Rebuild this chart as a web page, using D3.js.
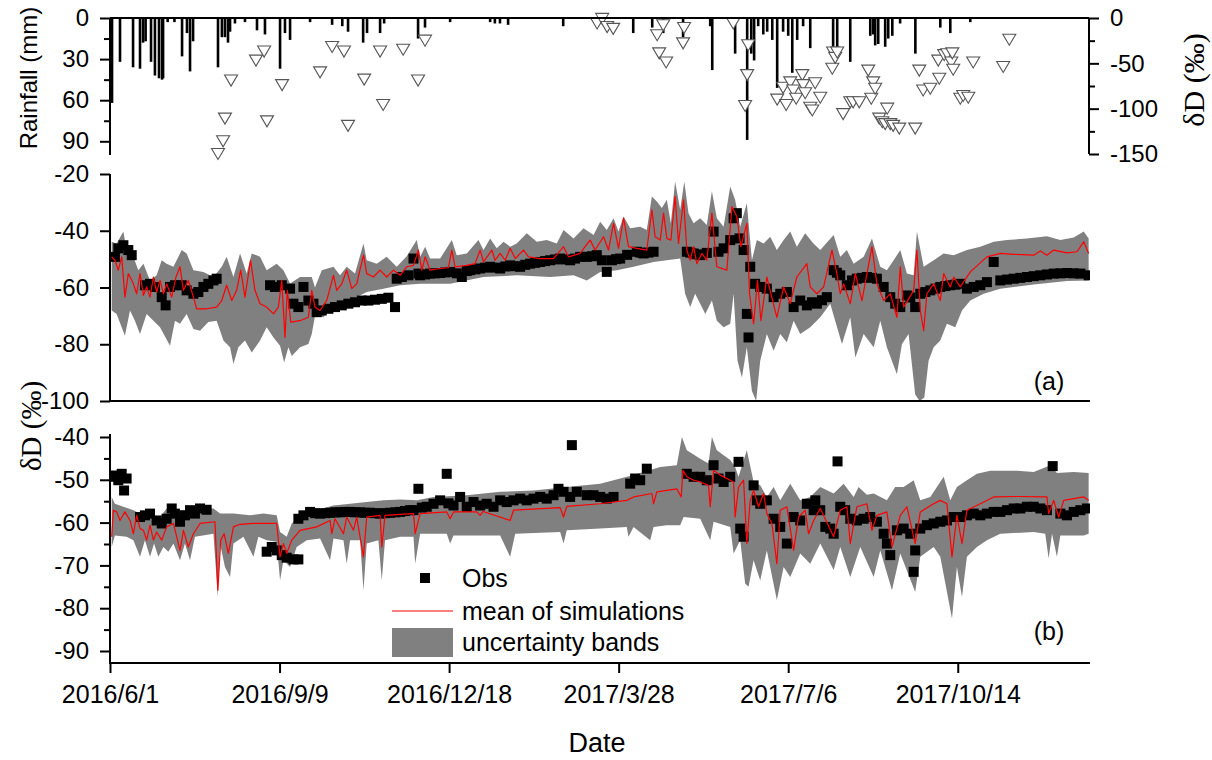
<!DOCTYPE html>
<html>
<head>
<meta charset="utf-8">
<script src="https://cdn.jsdelivr.net/npm/d3@7"></script>
<style>
  body { margin: 0; background: #fff; }
  svg { display: block; }
  text { font-family: "Liberation Sans", Arial, Helvetica, sans-serif; fill: #000; }
  .serif { font-family: "Liberation Serif", "Times New Roman", serif; }
</style>
</head>
<body>
<svg id="chart" width="1212" height="760"></svg>
<script>
// ---- time axis -------------------------------------------------------------
// every series below is keyed by "days since 2016/6/1"
const startDate = [2016, 6, 1];
const endDate = [2017, 12, 31];
const xTickLabels = ["2016/6/1", "2016/9/9", "2016/12/18", "2017/3/28", "2017/7/6", "2017/10/14"];

// ---- daily rainfall (mm) ---------------------------------------------------
const rainDay = [1.2, 5.9, 13.6, 17.7, 19.5, 21, 24.2, 26.5, 28.9, 30.7, 31.3, 34, 38, 42.5, 45.4, 47.2, 49,
  63.7, 66, 67.8, 69.6, 70.8, 73.7, 79.6, 86.7, 91.4, 100.3, 103.2, 106.2, 118, 131, 137, 140.4, 149.3, 151.6,
  159.3, 161.7, 181.7, 185.8, 200.6, 224.2, 227, 230, 234.8, 267.3, 308.6, 319.8, 326.3, 338, 354, 355.2, 368.7,
  375.8, 378.2, 379.9, 382.3, 385.3, 387.6, 390.6, 393.5, 397, 400, 402.4, 405.3, 408.8, 413, 426.5, 428.9,
  436.6, 448.4, 450.1, 451.3, 453.1, 457.2, 459, 461.4, 466, 475, 489.7, 495.6, 507.4];
const rainMm = [62, 32, 36, 37, 18, 17, 32, 42, 44, 45, 44, 3, 3, 28, 11, 39, 17,
  36, 14, 14, 18, 10, 4, 3, 9, 12, 37, 11, 16, 3, 5, 6, 10, 18, 11,
  11, 4, 15, 7, 3, 3, 4, 4, 5, 6, 11, 7, 11, 14, 6, 38, 26,
  89, 26, 31, 6, 12, 10, 16, 51, 10, 13, 40, 16, 6, 22, 21, 23,
  32, 13, 12, 20, 19, 21, 15, 13, 4, 26, 7, 11, 3];

// ---- δD of rainfall (‰) ----------------------------------------------------
const isoDay = [71.4, 67.8, 66.7, 63.7, 86.1, 90.9, 92.6, 101.5, 123.9, 131, 138, 140.4, 149.9, 159.3, 161.1,
  172.9, 181.7, 185.8, 287.3, 290.3, 293.2, 296.8, 322.7, 326.3, 323.9, 328, 338.6, 338, 367.6, 376.4, 375.8,
  374.6, 393.5, 397, 398.8, 401.2, 403, 404.7, 408.3, 408.8, 410, 413, 414.2, 415.9, 418.9, 426, 426.5, 427.7,
  428.9, 432.4, 436.6, 438.3, 441.9, 447.2, 449, 450.1, 451.3, 453.7, 455.5, 457.2, 458.4, 460.2, 461.9, 465.5,
  474.9, 477.3, 479.6, 483.8, 488.5, 489.1, 492, 493.8, 496.2, 496.8, 497.3, 501.5, 503.2, 506.2, 509.1, 526.8,
  530.4];
const isoD = [-69, -111, -136, -150, -47, -37, -114, -74, -60, -32, -37, -119, -68, -37, -96,
  -35, -69, -25, -6, -1, -10, -12, -19, -8, -39, -49, -11, -28, -6, -30, -63,
  -97, -90, -77, -96, -71, -80, -89, -63, -74, -83, -99, -102, -72, -88, -56, -38, -44,
  -38, -106, -93, -93, -93, -58, -89, -71, -78, -111, -115, -117, -100, -117, -119, -122,
  -122, -58, -80, -78, -47, -67, -41, -40, -49, -39, -57, -89, -86, -88, -49, -54,
  -24];

// ---- panel (a): simulated δD envelope, mean and observations ---------------
const aUpper = [[1,-43.9],[3.9,-44.5],[7.9,-40.3],[10.8,-50.4],[13.8,-49.2],[16.7,-53.9],[19.7,-51.6],[23.6,-57.5],
  [27.5,-55.7],[30.5,-50.4],[33.4,-51.6],[37.4,-52.7],[42.3,-46.8],[45.2,-48],[49.2,-53.9],[55.1,-54.5],[61,-56.3],
  [65.9,-52.7],[68.8,-49.2],[72.8,-56.3],[76.7,-48],[80.6,-55.1],[83.6,-48],[88.5,-49.2],[92.4,-53.9],[98.3,-51.6],
  [102.3,-53.9],[106.2,-58.6],[112.1,-56.3],[119,-56.3],[120.9,-60],[124.9,-53.9],[131.8,-52.7],[135.7,-55.7],
  [139.6,-52.7],[144.5,-55.1],[149.5,-44.5],[151.4,-50.4],[157.3,-51.6],[163.2,-49.2],[169.1,-52.7],[175,-49],
  [180.9,-43.3],[182.9,-49.2],[185.9,-45.6],[188.8,-49.8],[194.7,-49.8],[201.6,-43.3],[204.5,-48.6],[210.4,-48],
  [217.3,-43.3],[220.3,-46.8],[224.2,-42.7],[228.1,-46.2],[232.1,-43.9],[236,-45.6],[239.9,-44.5],[245.8,-40.9],
  [251.7,-43.9],[257.6,-43.3],[263.5,-44.5],[267.5,-39.7],[273.4,-42.7],[279.3,-39.1],[285.2,-41.5],[289.1,-36.8],
  [293,-39.7],[297,-35.6],[299.9,-40.3],[302.9,-35],[306.8,-39.1],[312.7,-38.6],[316.6,-39.7],[319.6,-27.9],
  [322.5,-29.7],[325.5,-32],[328.4,-29.1],[330.8,-37.4],[333.3,-22.6],[336.3,-32.6],[338.7,-22.6],[341.2,-33.8],
  [344.2,-37.4],[348.1,-35.6],[352,-38],[355,-26.1],[357.9,-35.6],[361.9,-38.6],[365.8,-24.4],[368.7,-29.1],
  [371.7,-38.6],[375.6,-30.3],[378.6,-50.4],[381.5,-43.3],[385.5,-44.5],[389.4,-42.1],[393.3,-46.8],[397.3,-43.3],
  [401.2,-40.3],[405.1,-45.6],[410,-40.9],[414.9,-44.5],[418.9,-46.8],[426.8,-41.5],[430.7,-49.2],[434.6,-46.8],
  [438.6,-51.6],[444.5,-49.2],[449.4,-42.7],[454.3,-52.7],[458.2,-53.9],[462.2,-50.4],[466.1,-46.8],[470,-55.1],
  [474,-55.7],[475.9,-40.3],[479.9,-52.7],[485.8,-50.4],[491.7,-48],[497.6,-48.6],[505.4,-46.8],[513.3,-45.6],
  [521.2,-43.9],[529,-43.3],[540.8,-42.7],[552.6,-41.9],[560.5,-43.3],[568.4,-42.4],[574.3,-40.3],[577.2,-42.7]];
const aLower = [[1,-68.1],[3.9,-69.3],[8.8,-77],[11.8,-68.1],[14.7,-71.7],[17.7,-76.4],[21.6,-69.3],[25.6,-71.7],
  [29.5,-74],[35.4,-80.5],[38.3,-71.7],[41.3,-72.8],[45.2,-69.3],[49.2,-74.6],[53.1,-75.2],[58,-72.2],[62.9,-71.7],
  [66.9,-78.7],[70.8,-81.1],[72.8,-87],[75.7,-81.1],[79.6,-78.7],[83.6,-82.9],[88.5,-78.7],[92.4,-74],[96.4,-77.6],
  [100.3,-80.5],[102.7,-86.4],[105.2,-81.1],[107.2,-84.1],[112.1,-81.1],[117,-79.9],[119,-76.4],[120.9,-70],
  [125.9,-70.5],[131.8,-66],[141.6,-64.6],[151.4,-61.6],[161.3,-60.4],[171.1,-59.2],[182.9,-58.7],[200.6,-58.7],
  [220.3,-56.3],[239.9,-55.7],[259.6,-56.3],[273.4,-55.7],[281.2,-57.5],[289.1,-54.5],[299,-53.9],[308.8,-52.7],
  [320.6,-51],[328.4,-50.4],[336.3,-49.8],[339.2,-62.2],[342.2,-66.9],[345.1,-62.2],[348.1,-65.7],[351.1,-69.3],
  [355,-64.6],[357.9,-71.7],[361.9,-74],[365.8,-72.8],[367.8,-62.2],[370.1,-85.8],[372.7,-91.7],[375.6,-81.1],
  [378.6,-96.5],[381.1,-100],[383.5,-85.8],[387.4,-76.4],[391.4,-82.3],[395.3,-76.4],[399.2,-79.3],[403.2,-71.7],
  [407.1,-76.4],[413,-74],[418.9,-70.5],[424.8,-65.7],[431.7,-79.9],[436.6,-70.5],[439.6,-84.7],[444.5,-76.4],
  [450.4,-81.1],[454.3,-71.7],[458.2,-81.1],[464.1,-90.6],[467.1,-79.9],[471,-76.4],[474.9,-97.7],[477.5,-100],
  [480.3,-98.8],[482.8,-85.8],[485.8,-81.1],[489.7,-78.7],[493.6,-72.8],[498.5,-74],[502.5,-68.1],[507.4,-64.6],
  [515.3,-62.2],[525.1,-60.4],[544.8,-58.9],[564.4,-57.7],[577.2,-57.5]];
const aMean = [[1,-49.2],[2.9,-50.4],[4.9,-53.9],[6.9,-49.2],[8.8,-63.4],[10.8,-55.1],[13.8,-58.7],[15.7,-62.2],
  [17.7,-55.1],[19.7,-62.8],[21.6,-59.8],[23.6,-63.4],[25.6,-56.3],[27.5,-61.6],[29.5,-57.5],[31.5,-62.2],
  [33.4,-58.7],[36.4,-63.4],[38.9,-56.3],[41.3,-52.7],[43.3,-61],[46.2,-57.5],[49.2,-63.4],[51.1,-67.5],[57,-67.5],
  [62.9,-66.9],[65.9,-64.6],[68.8,-59.2],[71.8,-64.6],[74.7,-61],[77.1,-53.9],[79.6,-63.4],[82.9,-50.4],[85.5,-61],
  [88.5,-65.7],[92.4,-66.9],[96.4,-69.3],[99.3,-66.9],[101.3,-57.5],[103.2,-77.6],[104.6,-61],[106.6,-72.2],
  [112.1,-71.7],[117,-70.5],[119,-61],[120.9,-66.9],[123.9,-68.1],[127.8,-64.6],[131.8,-55.7],[133.7,-61],
  [136.7,-58.7],[139.6,-53.9],[142.6,-60.4],[145.5,-58.7],[149.5,-48.6],[151.4,-55.1],[155.4,-56.3],[159.3,-53.9],
  [163.2,-56.3],[167.2,-53.9],[171.1,-55.7],[175,-52.7],[179,-52.2],[181.9,-46.8],[183.9,-53.9],[185.9,-49.2],
  [188.8,-53.9],[194.7,-53.3],[199.6,-53],[201.6,-46.8],[203.5,-52.7],[210.4,-52.2],[215.3,-51.6],[218.3,-46.8],
  [220.3,-51],[225.2,-46.8],[227.1,-50.4],[230.1,-48],[233.1,-50.4],[236,-46.2],[239,-49.8],[243.9,-46.8],
  [246.8,-49.2],[253.7,-49.8],[261.6,-49.8],[267.5,-45.6],[270.4,-49.2],[277.3,-48],[280.2,-45.6],[283.2,-43.3],
  [286.1,-46.8],[291.1,-42.1],[294,-46.8],[297,-37.4],[299.9,-46.2],[302.9,-35.5],[305.8,-45.6],[310.7,-46.2],
  [316.6,-46.8],[319.6,-32.6],[321.5,-42.1],[324.5,-43.3],[326.5,-33.8],[328.4,-42.7],[330.8,-43.3],[333.3,-27.9],
  [335.3,-44.5],[338.3,-29.1],[340.2,-46.8],[342.2,-50.4],[344.2,-45.6],[346.1,-51.6],[349.1,-48],[352,-50.4],
  [355,-33.8],[357.9,-52.7],[363.8,-53.9],[366.8,-31.5],[369.7,-35],[372.1,-45.6],[375.6,-37.4],[377.2,-62.2],
  [379.6,-72.8],[381.9,-57.5],[383.9,-71.7],[387.4,-56.3],[389.8,-62.2],[393.3,-70.5],[397.3,-59.8],[401.2,-65.7],
  [405.1,-56.3],[411,-51.6],[413,-59.8],[416.9,-62.2],[420.9,-59.8],[425.8,-46.8],[428.7,-55.1],[430.7,-62.2],
  [432.7,-58.7],[436.6,-65.7],[439.6,-55.1],[443.5,-64.6],[449.4,-45.6],[452.3,-58.7],[456.3,-64.6],[460.2,-62.2],
  [464.1,-70.5],[466.1,-52.7],[468.1,-66.9],[474,-61],[475.9,-46.8],[477.9,-68.1],[479.9,-75.2],[481.8,-62.2],
  [485.8,-58.7],[489.7,-64.6],[491.7,-55.1],[495.6,-59.8],[497.6,-56.3],[501.5,-59.8],[507.4,-54.5],[517.2,-49.2],
  [525.1,-48],[533,-48.3],[544.8,-48.6],[548.7,-47.1],[552.6,-48.6],[556.6,-46.8],[564.4,-47.8],[570.3,-47.4],
  [574.3,-43.9],[577.2,-48]];
const aObs = [[2.9,-49.2],[4.9,-46.2],[7.9,-45.1],[10.8,-46.8],[12.8,-48.6],[20.6,-59.2],[23.6,-58.7],[26.5,-59.8],
  [30.5,-63.4],[32.8,-66.3],[35.4,-59.8],[38.3,-59.2],[42.3,-59.2],[45.2,-61],[49.2,-62.2],[52.1,-61.6],[55.1,-59.8],
  [58,-58.7],[61,-57.5],[62.9,-56.9],[94.4,-59.2],[97.3,-59.8],[101.3,-59.2],[106.2,-60.4],[108.2,-65.7],
  [111.1,-66.9],[114.1,-59.8],[117,-64.6],[120,-65.7],[121.9,-68.7],[124.9,-68.1],[128.8,-67.5],[132.7,-66.9],
  [136.7,-66.3],[140.6,-65.7],[144.5,-65.2],[148.5,-64.6],[152.4,-64.6],[156.3,-64.3],[160.3,-64],[164.2,-63.6],
  [168.1,-66.9],[169.1,-56.9],[172.1,-56.3],[176,-55.7],[179,-49.8],[181.9,-55.1],[182.9,-55.7],[185.9,-55.4],
  [188.8,-55.1],[191.8,-55],[194.7,-54.9],[197.7,-54.7],[200.6,-54.5],[204.5,-55],[207.5,-56.3],[210.4,-54.2],
  [212.4,-53.9],[215.4,-53.6],[218.3,-53.3],[221.3,-53],[224.2,-52.7],[227.1,-53],[230.1,-53.3],[233.1,-52.6],
  [236,-52.2],[239,-52.5],[241.9,-52.7],[244.9,-52],[247.8,-51.6],[250.8,-51.3],[253.7,-51],[256.6,-50.7],
  [259.6,-50.4],[262.6,-50.1],[265.5,-49.8],[268.5,-50.1],[271.4,-50.4],[274.3,-49.8],[277.3,-49.2],[281.2,-49.2],
  [284.2,-49],[287.1,-48.6],[290.1,-50.4],[293,-54.5],[296,-50.4],[298.5,-50],[300.9,-49.8],[305,-48.5],
  [310.7,-47.4],[312.7,-47.7],[314.7,-48],[317.6,-47.7],[320.6,-47.4],[340.2,-47.4],[342.2,-47.7],[344.2,-48],
  [346.1,-48.3],[348.1,-48.6],[352,-47.8],[356,-40.3],[358.9,-47.4],[361.9,-46.2],[365.8,-43.3],[367.8,-35.6],
  [369.7,-33.8],[371.3,-42.7],[373.7,-46.8],[375.6,-69.3],[376.6,-77.6],[377.6,-52.7],[380.5,-58.7],[383.5,-59.8],
  [387.4,-60.4],[391.4,-63.4],[395.3,-62.2],[399.2,-61.6],[403.2,-66.9],[407.1,-64.6],[411,-66.3],[414,-65.2],
  [416.9,-65.7],[419.9,-64.5],[422.8,-63.4],[426.8,-53.9],[428.7,-54.8],[430.7,-55.7],[434.6,-59.2],[437.6,-57.5],
  [440.5,-56.9],[443.5,-56.6],[446.4,-56.3],[449.4,-56.6],[452.3,-56.9],[456.3,-59.8],[460.2,-63.4],[463.1,-65.7],
  [466.1,-66.9],[470,-62.8],[472,-63.5],[474.9,-66.9],[477.9,-62.2],[480.9,-61.6],[483.8,-61],[486.8,-60.4],
  [489.7,-59.8],[492.7,-59.5],[495.6,-59.2],[498.6,-59],[501.5,-58.7],[505.4,-60.4],[509.4,-59.8],[513.3,-59.2],
  [517.2,-58.1],[521.2,-51],[525.1,-57.5],[529,-57.2],[533,-56.9],[536.9,-56.6],[540.8,-56.3],[544.8,-56],
  [548.7,-55.7],[552.6,-55.4],[556.6,-55.1],[560.5,-55],[564.4,-54.9],[568.4,-55],[572.3,-55.1],[577.2,-55.7]];

// ---- panel (b): simulated δD envelope, mean and observations ---------------
const bUpper = [[1,-54],[2.9,-55.6],[7.9,-56.3],[13.8,-57.1],[17.7,-57.9],[23.6,-58.3],[29.5,-58.7],[33.4,-56.7],
  [39.3,-57.1],[45.2,-57.1],[51.1,-56.7],[61,-56.7],[64.9,-57.9],[72.8,-57.9],[82.6,-58.3],[90.5,-57.9],[98.3,-58.3],
  [100.3,-62.2],[104.2,-63.3],[107.2,-60.2],[112.1,-58.3],[121.9,-57.1],[131.8,-56],[141.6,-55.6],[151.4,-55.2],
  [161.3,-54.8],[171.1,-54.6],[181,-54.8],[190.8,-54],[210.4,-53.6],[230.1,-52.8],[249.8,-52.5],[269.4,-51.7],
  [289.1,-50.9],[308.8,-48.9],[324.5,-47],[334.3,-46.6],[337.3,-40],[340.2,-43.1],[348.1,-45.1],[353,-46.2],
  [355,-40],[357.9,-43.1],[365.8,-45.4],[368.7,-47],[370.7,-49.3],[375.6,-43.1],[379.6,-50.5],[383.5,-51.3],
  [387.4,-54],[391.4,-51.7],[395.3,-54.8],[401.2,-50.9],[407.1,-54.8],[413,-54],[418.9,-51.7],[426.8,-53.2],
  [432.7,-50.9],[438.6,-54],[441.5,-51.7],[446.4,-53.5],[450.4,-53.2],[458.2,-54.8],[463.1,-51.7],[468.1,-51.7],
  [474,-50.1],[477.9,-54.8],[483.8,-54],[487.7,-51.7],[491.7,-49.3],[495.6,-54.8],[499.5,-51.7],[505.4,-50.1],
  [511.3,-48.6],[519.2,-47.9],[535,-47.9],[544.8,-48.2],[554.6,-46.6],[558.5,-48.4],[568.4,-48.2],[577.2,-48.4]];
const bLower = [[1,-65.7],[2.9,-63],[9.8,-63.3],[13.8,-64.1],[17.7,-68],[20.6,-64.1],[23.6,-68],[26,-64.9],
  [28.5,-68],[31.5,-65.7],[34.4,-66.8],[37.4,-64.9],[41.3,-68.8],[44.2,-64.9],[47.2,-68.8],[50.1,-63.3],[61,-62.6],
  [63.6,-77.4],[64.9,-64.9],[67.8,-70.4],[70.8,-72.7],[72.8,-64.9],[78.7,-63.3],[84.6,-68],[87.5,-63.3],[92.4,-64.1],
  [98.3,-64.5],[100.3,-73.5],[102.3,-68.8],[106.2,-70.4],[110.1,-65.7],[116,-64.1],[123.9,-63.7],[129.8,-68.8],
  [131.8,-63.7],[137.7,-64.1],[139.6,-69.6],[141.6,-64.1],[147.5,-64.1],[149.5,-75.8],[151.4,-64.9],[158.3,-64.1],
  [160.3,-73.5],[162.2,-64.1],[171.1,-63.3],[179,-63.3],[180,-69.6],[182.9,-62.6],[198.6,-62.6],[200.6,-64.9],
  [202.6,-63],[230.1,-63],[236,-68],[239,-62.6],[265.5,-62.2],[267.5,-64.9],[269.4,-61.8],[289.1,-61.4],
  [304.8,-61],[305.8,-63.3],[308.8,-61],[318.6,-64.1],[320.6,-61],[328.4,-60.6],[336.3,-60.6],[338.3,-58.7],
  [348.1,-59.1],[354,-64.1],[356,-59.8],[365.8,-61],[367.8,-67.2],[371.7,-64.1],[374.6,-74.2],[376.6,-75],
  [379.6,-68.8],[383.5,-73.5],[387.4,-66.5],[393.3,-78.1],[397.3,-70.4],[401.2,-72.7],[407.1,-67.2],[413,-69.6],
  [418.9,-64.9],[426.8,-71.1],[430.7,-65.7],[436.6,-72.7],[442.5,-65.7],[450.4,-72.7],[454.3,-66.5],[461.2,-75.8],
  [466.1,-67.2],[474.9,-76.2],[477.9,-68],[485.8,-65.7],[489.7,-68],[496.6,-82.4],[499.5,-70.4],[502.5,-77.4],
  [505.4,-68],[511.3,-65.7],[517.2,-64.1],[525.1,-62.6],[544.8,-62.2],[551.6,-62.6],[553.6,-68.4],[555.6,-62.6],
  [558.5,-68],[560.5,-63],[574.3,-63],[577.2,-62.6]];
const bMean = [[1,-63.3],[2,-57.1],[3.9,-57.5],[5.9,-59.5],[8.8,-57.5],[11.8,-59.5],[13.8,-62.6],[15.7,-58.3],
  [17.7,-61.4],[19.7,-61.8],[21.6,-64.1],[23.6,-60.6],[25.6,-64.1],[27.5,-62.2],[30.5,-64.1],[33.4,-61],[37.4,-60.2],
  [41.3,-66.5],[43.3,-61.8],[46.2,-65.7],[49.2,-62.6],[53.1,-60.2],[61.9,-59.8],[63.6,-75.8],[65.3,-64.1],
  [67.3,-62.6],[69.8,-67.2],[72.8,-61],[76.7,-60.4],[84.6,-60.2],[92.4,-60.2],[98.3,-60.2],[100.3,-68],[102.3,-64.9],
  [104.2,-67.2],[107.2,-64.1],[112.1,-61.8],[121.9,-61],[129.8,-59.5],[130.8,-62.6],[132.7,-59.1],[137.7,-62.6],
  [139.6,-58.7],[143.6,-61.8],[145.5,-58.7],[149.5,-68],[151.4,-58.7],[159.3,-58.3],[160.3,-65.7],[162.2,-58.3],
  [171.1,-58.1],[179,-57.9],[180,-62.6],[182.9,-57.9],[198.6,-57.5],[200.6,-59.1],[202.6,-57.5],[216.3,-57.5],
  [218.3,-58.3],[220,-57.4],[236,-59.5],[238,-57.1],[265.5,-56.5],[267.5,-58.7],[269.4,-56.2],[289.1,-55.6],
  [304.8,-54.8],[308.8,-54],[319.6,-53.2],[320.6,-55.6],[322.5,-52.8],[334.3,-52.1],[336.9,-54],[337.9,-47.8],
  [340.2,-49.3],[344.2,-50.1],[348.1,-50.5],[353,-51.3],[354,-56.3],[356,-47.8],[359.9,-48.9],[365.8,-50.1],
  [367.8,-50.5],[368.7,-58.7],[370.7,-51.7],[373.7,-50.1],[375.6,-64.9],[377.6,-54.8],[379.6,-52.5],[382.5,-56.3],
  [385.5,-53.2],[387.4,-57.9],[390.4,-60.2],[393.3,-69.6],[395.3,-57.1],[399.2,-56.3],[403.2,-66.5],[406.1,-58.7],
  [410,-57.1],[412,-62.6],[415,-59.5],[418.9,-56.7],[426.8,-63.3],[430.7,-57.1],[434.6,-56.3],[436.6,-64.9],
  [440.5,-56.3],[446.4,-55.6],[449.4,-61.8],[452.3,-58.3],[458.2,-57.5],[461.2,-65.7],[466.1,-58.3],[470,-56.3],
  [474.9,-64.9],[477.9,-57.5],[485.8,-55.6],[489.7,-54.8],[493.6,-55.6],[496.6,-68],[499.5,-58.3],[502.5,-64.9],
  [505.4,-57.1],[513.3,-55.6],[521.2,-54],[535,-53.9],[552.6,-54],[553.6,-57.9],[556.6,-54.8],[559.5,-58.7],
  [562.5,-54.8],[574.3,-54],[577.2,-54.8]];
const bObs = [[1,-49.3],[2.9,-49],[4.9,-50.1],[6.9,-48.6],[8.3,-52.5],[9.8,-49.7],[17.7,-58.7],[20.6,-58.3],
  [23.6,-57.9],[27.5,-59.5],[30.5,-60.2],[33.4,-59.1],[36.4,-56.7],[38.3,-57.9],[41.3,-59.8],[44.2,-58.3],
  [47.2,-57.1],[50.1,-57.9],[53.1,-56.7],[57,-57],[92.4,-66.8],[95.4,-65.7],[98.3,-66.5],[101.3,-67.6],[104.2,-68.2],
  [108.2,-68.6],[111.1,-68.6],[111.1,-59.1],[114.1,-58.3],[118,-57.5],[121,-57.8],[123.9,-57.9],[126.9,-57.8],
  [129.8,-57.7],[132.8,-57.6],[135.7,-57.6],[138.7,-57.5],[141.6,-57.5],[144.6,-57.6],[147.5,-57.6],[150.5,-57.7],
  [153.4,-57.7],[156.4,-57.8],[159.3,-57.9],[162.3,-57.8],[165.2,-57.7],[168.2,-57.6],[171.1,-57.5],[174,-57.3],
  [177,-57.1],[179,-57.1],[181.9,-52.1],[183.9,-56.5],[186.8,-56.3],[190.8,-55.6],[194.7,-54.8],[198.6,-48.6],
  [199.6,-55.5],[202.6,-56],[206.5,-54],[210.4,-56.3],[214.4,-55.2],[218.3,-56],[222.2,-55.6],[226.2,-56.3],
  [230.1,-54.8],[234,-55.2],[238,-54.8],[241.9,-54.4],[245.8,-54.8],[249.8,-54.4],[253.7,-54],[257.6,-54.4],
  [261.6,-53.6],[264.5,-52.1],[267.5,-52.8],[271.4,-54],[272.4,-41.9],[275.3,-52.8],[281.2,-53.6],[285.2,-53.6],
  [289.1,-54],[293,-54.4],[297,-54],[306.8,-50.9],[309.7,-49.7],[312.7,-50.1],[316.6,-47.4],[340.2,-48.6],
  [344.2,-49.3],[348.1,-49.3],[352,-50.1],[356,-46.6],[358.9,-49.7],[361.9,-50.5],[365.8,-49.3],[370.7,-45.8],
  [371.7,-61.4],[373.7,-63.3],[379.6,-51.3],[381.5,-54.8],[383.5,-55.6],[387.4,-54.8],[391.4,-59.1],[395.3,-61],
  [399.2,-64.9],[403.2,-58.7],[407.1,-59.5],[411,-55.6],[415,-57.1],[416,-54.8],[418.9,-57.1],[421.9,-61],
  [424.8,-61.4],[426.8,-62.6],[429.1,-45.7],[430.7,-56.3],[433.6,-57.1],[436.6,-59.1],[440.5,-59.5],[444.5,-59.1],
  [448.4,-58.7],[452.3,-59.8],[456.3,-62.6],[458.2,-64.9],[460.2,-67.6],[464.1,-61.8],[468.1,-61.4],[472,-62.6],
  [474,-71.5],[474.9,-66.5],[477.9,-61.4],[481.8,-60.6],[485.8,-60.2],[489.7,-59.8],[493.6,-59.5],[497.6,-58.7],
  [501.5,-58.7],[505.4,-58.3],[509.4,-57.9],[513.3,-58.3],[517.2,-57.9],[521.2,-57.5],[525.1,-57.5],[529,-57.1],
  [533,-56.7],[536.9,-56.7],[540.8,-56.3],[544.8,-56.3],[548.7,-56.7],[552.6,-57.1],[556,-46.8],[560.5,-57.9],
  [564.4,-58.3],[568.4,-57.5],[572.3,-57.1],[576.2,-56.7]];

// ---- axis ticks --------------------------------------------------------------
const rainTicks = [0, 30, 60, 90], rainMinor = [15, 45, 75];
const isoTicks = [0, -50, -100, -150], isoMinor = [-25, -75, -125];
const aTicks = [-20, -40, -60, -80, -100];
const bTicks = [-40, -50, -60, -70, -80, -90], bMinor = [-45, -55, -65, -75, -85];

// ---- drawing ------------------------------------------------------------------
(function draw() {
  const svg = d3.select("#chart");
  const W = 1212, H = 760;
  svg.append("rect").attr("width", W).attr("height", H).attr("fill", "#fff");

  const mkDate = a => new Date(a[0], a[1] - 1, a[2]);
  const t0 = mkDate(startDate);
  const dayToDate = d => new Date(t0.getTime() + d * 864e5);
  const L = 110, R = 1090;
  const x = d3.scaleTime().domain([t0, mkDate(endDate)]).range([L, R]);
  const xd = d => x(dayToDate(d));
  const plain = d => String(d);          // hyphen-minus, as on the printed axes

  // panel geometry
  const pt = { y0: 18, y1: 155 };
  const pa = { y0: 174, y1: 401 };
  const pb = { y0: 434, y1: 663 };

  const yRain = d3.scaleLinear().domain([0, 100]).range([pt.y0, pt.y1]);
  const yIso = d3.scaleLinear().domain([0, -150]).range([pt.y0, 154]);
  const yA = d3.scaleLinear().domain([-20, -100]).range([pa.y0, pa.y1]);
  const yB = d3.scaleLinear().domain([-40, -90]).range([437, 651]);

  const defs = svg.append("defs");
  defs.append("clipPath").attr("id", "clipA").append("rect")
    .attr("x", L).attr("y", pa.y0 - 10).attr("width", R - L).attr("height", pa.y1 - pa.y0 + 10);
  defs.append("clipPath").attr("id", "clipB").append("rect")
    .attr("x", L).attr("y", pb.y0 - 30).attr("width", R - L).attr("height", pb.y1 - pb.y0 + 30);

  const AX = "#000", AXW = 2;
  const TICK_FONT = 24;

  function styleAxis(g, fontSize) {
    g.select(".domain").remove();
    g.selectAll(".tick line").attr("stroke", AX).attr("stroke-width", AXW);
    g.selectAll(".tick text").attr("font-size", fontSize)
      .attr("font-family", '"Liberation Sans", Arial, sans-serif').attr("fill", "#000");
  }
  function vline(xp, ya, yb) {
    svg.append("line").attr("x1", xp).attr("x2", xp).attr("y1", ya).attr("y2", yb)
      .attr("stroke", AX).attr("stroke-width", AXW);
  }
  function hline(yp, xa, xb) {
    svg.append("line").attr("x1", xa).attr("x2", xb).attr("y1", yp).attr("y2", yp)
      .attr("stroke", AX).attr("stroke-width", AXW);
  }

  // ---------- top panel: rainfall bars + rain δD triangles ----------
  svg.append("g").selectAll("rect").data(d3.range(rainDay.length)).join("rect")
    .attr("x", i => xd(rainDay[i]) - 1.3)
    .attr("width", 2.6)
    .attr("y", yRain(0))
    .attr("height", i => yRain(rainMm[i]) - yRain(0))
    .attr("fill", "#000");

  const triPath = (cx, cy) => `M${cx - 6.5},${cy - 5.5}L${cx + 6.5},${cy - 5.5}L${cx},${cy + 5.5}Z`;
  svg.append("g").selectAll("path").data(d3.range(isoDay.length)).join("path")
    .attr("d", i => triPath(xd(isoDay[i]), yIso(isoD[i])))
    .attr("fill", "#fff").attr("stroke", "#555").attr("stroke-width", 1.1);

  hline(pt.y0, L, R - 1);
  vline(L, pt.y0, pt.y1);
  vline(R - 1, pt.y0, 154);

  const gRain = svg.append("g").attr("transform", `translate(${L},0)`)
    .call(d3.axisLeft(yRain).tickValues(rainTicks).tickSize(10).tickPadding(11).tickFormat(plain));
  styleAxis(gRain, TICK_FONT);
  const gRainMinor = svg.append("g").attr("transform", `translate(${L},0)`)
    .call(d3.axisLeft(yRain).tickValues(rainMinor).tickSize(6).tickFormat(""));
  styleAxis(gRainMinor, TICK_FONT);

  const gIso = svg.append("g").attr("transform", `translate(${R - 1},0)`)
    .call(d3.axisRight(yIso).tickValues(isoTicks).tickSize(10).tickPadding(11).tickFormat(plain));
  styleAxis(gIso, TICK_FONT);
  const gIsoMinor = svg.append("g").attr("transform", `translate(${R - 1},0)`)
    .call(d3.axisRight(yIso).tickValues(isoMinor).tickSize(6).tickFormat(""));
  styleAxis(gIsoMinor, TICK_FONT);

  // ---------- band / mean / obs panels ----------
  function drawPanel(yS, upper, lower, mean, obs, clipId) {
    const g = svg.append("g").attr("clip-path", `url(#${clipId})`);
    const line = d3.line().x(p => xd(p[0])).y(p => yS(p[1]));
    const ring = upper.concat(lower.slice().reverse());
    g.append("path").attr("d", line(ring) + "Z").attr("fill", "#808080").attr("stroke", "none");
    g.append("g").selectAll("rect").data(obs).join("rect")
      .attr("x", p => xd(p[0]) - 5).attr("y", p => yS(p[1]) - 5)
      .attr("width", 10).attr("height", 10).attr("fill", "#000");
    g.append("path").attr("d", line(mean)).attr("fill", "none")
      .attr("stroke", "#ff0000").attr("stroke-width", 1.2).attr("stroke-linejoin", "round");
  }
  drawPanel(yA, aUpper, aLower, aMean, aObs, "clipA");
  drawPanel(yB, bUpper, bLower, bMean, bObs, "clipB");

  // panel (a) axes
  vline(L, pa.y0, pa.y1);
  hline(pa.y1, L - 1, R);
  const gA = svg.append("g").attr("transform", `translate(${L},0)`)
    .call(d3.axisLeft(yA).tickValues(aTicks).tickSize(10).tickPadding(11).tickFormat(plain));
  styleAxis(gA, TICK_FONT);

  // panel (b) axes
  vline(L, pb.y0, pb.y1);
  hline(pb.y1, L - 1, R);
  const gB = svg.append("g").attr("transform", `translate(${L},0)`)
    .call(d3.axisLeft(yB).tickValues(bTicks).tickSize(10).tickPadding(11).tickFormat(plain));
  styleAxis(gB, TICK_FONT);
  const gBMinor = svg.append("g").attr("transform", `translate(${L},0)`)
    .call(d3.axisLeft(yB).tickValues(bMinor).tickSize(6).tickFormat(""));
  styleAxis(gBMinor, TICK_FONT);

  // date axis
  const xTickDates = xTickLabels.map(s => { const p = s.split("/").map(Number); return new Date(p[0], p[1] - 1, p[2]); });
  const gX = svg.append("g").attr("transform", `translate(0,${pb.y1})`)
    .call(d3.axisBottom(x).tickValues(xTickDates).tickSize(10).tickPadding(12)
      .tickFormat((d, i) => xTickLabels[i]));
  styleAxis(gX, 25);

  // ---------- titles ----------
  svg.append("text").attr("transform", "translate(28,78) rotate(-90)")
    .attr("text-anchor", "middle").attr("dominant-baseline", "central")
    .attr("font-size", 24).text("Rainfall (mm)");
  svg.append("text").attr("class", "serif").attr("transform", "translate(1193,80) rotate(-90)")
    .attr("text-anchor", "middle").attr("dominant-baseline", "central")
    .attr("font-size", 30).text("δD (‰)");
  svg.append("text").attr("class", "serif").attr("transform", "translate(31,426) rotate(-90)")
    .attr("text-anchor", "middle").attr("dominant-baseline", "central")
    .attr("font-size", 29).text("δD (‰)");
  svg.append("text").attr("x", 597).attr("y", 752).attr("text-anchor", "middle")
    .attr("font-size", 27).text("Date");
  svg.append("text").attr("x", 1049).attr("y", 390).attr("text-anchor", "middle")
    .attr("font-size", 25).text("(a)");
  svg.append("text").attr("x", 1049).attr("y", 640).attr("text-anchor", "middle")
    .attr("font-size", 25).text("(b)");

  // ---------- legend ----------
  const lg = svg.append("g");
  lg.append("rect").attr("x", 420).attr("y", 573).attr("width", 10).attr("height", 10).attr("fill", "#000");
  lg.append("text").attr("x", 462).attr("y", 587).attr("font-size", 25).text("Obs");
  lg.append("line").attr("x1", 392).attr("x2", 453).attr("y1", 611).attr("y2", 611)
    .attr("stroke", "#ff0000").attr("stroke-width", 1.2);
  lg.append("text").attr("x", 462).attr("y", 620).attr("font-size", 25).text("mean of simulations");
  lg.append("rect").attr("x", 392).attr("y", 628).attr("width", 61).attr("height", 29).attr("fill", "#808080");
  lg.append("text").attr("x", 462).attr("y", 651).attr("font-size", 25).text("uncertainty bands");
})();
</script>
</body>
</html>
